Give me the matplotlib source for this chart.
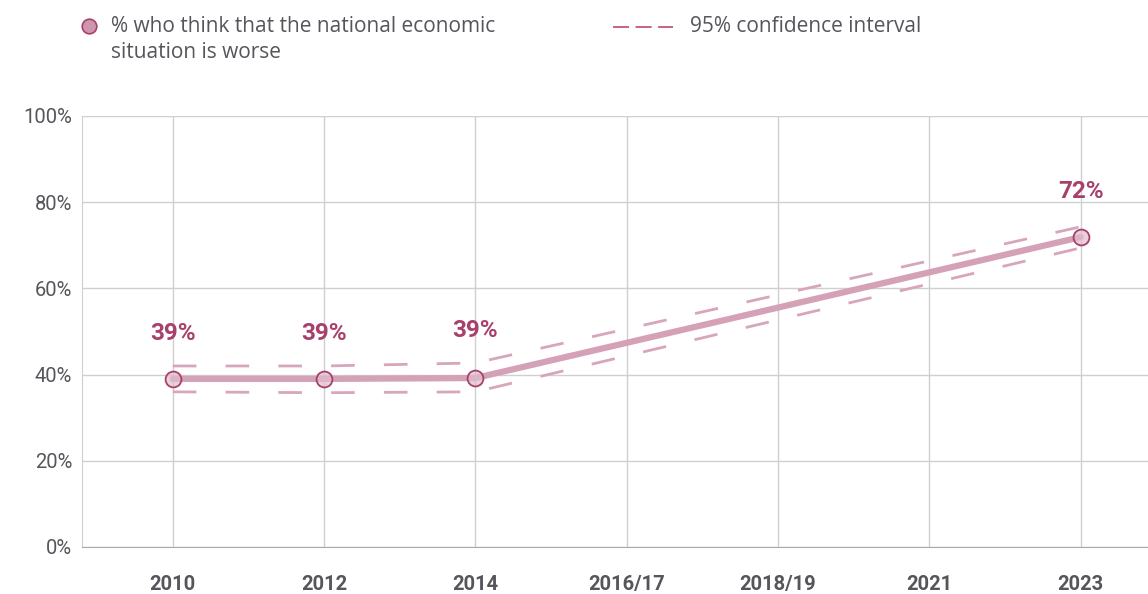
import matplotlib
matplotlib.use("Agg")
import matplotlib.pyplot as plt
from matplotlib.lines import Line2D

categories = ["2010", "2012", "2014", "2016/17", "2018/19", "2021", "2023"]
point_idx = [0, 1, 2, 6]
values = [39.0, 39.0, 39.2, 71.9]
ci_upper = [42.0, 42.0, 42.7, 74.3]
ci_lower = [36.0, 35.8, 36.0, 69.4]
labels = ["39%", "39%", "39%", "72%"]
yticks = [0, 20, 40, 60, 80, 100]

line_col = "#d4a1b7"
dash_col = "#d8a6bc"
dark = "#a8406c"
text_col = "#55555c"
grid_col = "#cfcfcf"

plt.rcParams['font.family'] = ['Roboto', 'DejaVu Sans']

fig = plt.figure(figsize=(11.48, 5.94), dpi=100)
ax = fig.add_axes([82/1148, 1-547/594, 1-82/1148, (547-116)/594])

ax.set_xlim(-0.6, 6.445)
ax.set_ylim(0, 100)

ax.set_xticks(range(len(categories)))
ax.set_xticklabels(categories, fontweight='bold', fontsize=14.5, color=text_col)
ax.set_yticks(yticks)
ax.set_yticklabels([f"{t}%" for t in yticks], fontsize=14.5, color=text_col)
ax.tick_params(axis='both', length=0)
ax.tick_params(axis='x', pad=20)
ax.tick_params(axis='y', pad=7)

ax.grid(True, color=grid_col, linewidth=1.0)
ax.set_axisbelow(True)
for s in ['top', 'right']:
    ax.spines[s].set_visible(False)
ax.spines['left'].set_color(grid_col)
ax.spines['bottom'].set_color('#aaaaaa')

ax.plot(point_idx, ci_upper, color=dash_col, lw=2, dashes=(8.5, 10.5), zorder=2)
ax.plot(point_idx, ci_lower, color=dash_col, lw=2, dashes=(8.5, 10.5), zorder=2)
ax.plot(point_idx, values, color=line_col, lw=4.5, solid_capstyle='round', zorder=3)
ax.scatter(point_idx, values, s=130, facecolor=(0.88, 0.74, 0.80, 0.7), edgecolor=dark, linewidth=1.3, zorder=4)

for i, (x, v, lab) in enumerate(zip(point_idx, values, labels)):
    ax.annotate(lab, (x, v), xytext=(0, 33 if i != 2 else 34), textcoords='offset points',
                ha='center', va='center', fontsize=17.5, fontweight='bold', color=dark)

# legend
leg_font = ['Open Sans', 'DejaVu Sans']
fig.add_artist(Line2D([89/1148], [1-26/594], marker='o', markersize=10.5, markerfacecolor='#cf94ae',
                      markeredgecolor=dark, markeredgewidth=1.2, transform=fig.transFigure))
fig.text(111/1148, 1-27/594, "% who think that the national economic", fontsize=15, color=text_col,
         va='center', ha='left', family=leg_font)
fig.text(111/1148, 1-52/594, "situation is worse", fontsize=15, color=text_col,
         va='center', ha='left', family=leg_font)
fig.add_artist(Line2D([613/1148, 673/1148], [1-27/594, 1-27/594], color='#c4557f', lw=1.3,
                      dashes=(8.9, 3.6), transform=fig.transFigure))
fig.text(690/1148, 1-27/594, "95% confidence interval", fontsize=15, color=text_col,
         va='center', ha='left', family=leg_font)

fig.savefig("out.png", dpi=100)
